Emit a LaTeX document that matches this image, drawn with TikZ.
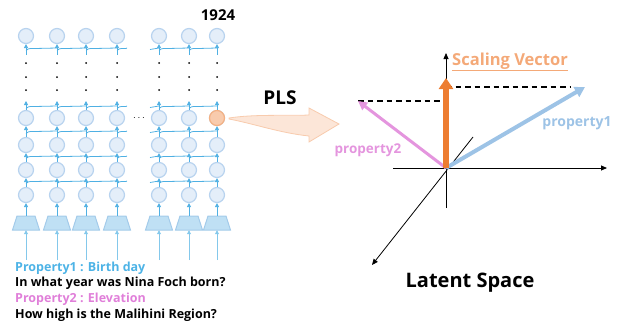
\documentclass[tikz,border=0pt]{standalone}
\usepackage{fontspec}
\setmainfont{Open Sans}
\usetikzlibrary{arrows.meta,shapes.geometric,calc}
\definecolor{netline}{HTML}{4FB0E3}
\definecolor{cfill}{HTML}{E4EEF9}
\definecolor{cdraw}{HTML}{B8D3EF}
\definecolor{tfill}{HTML}{BFE0F4}
\definecolor{tdraw}{HTML}{A3CBEA}
\definecolor{ofill}{HTML}{F8CBAD}
\definecolor{odraw}{HTML}{F4B183}
\definecolor{pone}{HTML}{4DB3E6}
\definecolor{ptwo}{HTML}{E07FD9}
\definecolor{arrfill}{HTML}{FCE6D8}
\definecolor{arrdraw}{HTML}{F8CBAD}
\definecolor{scal}{HTML}{ED7D31}
\definecolor{scaltext}{HTML}{F4A978}
\definecolor{bluev}{HTML}{9DC3E6}
\definecolor{pinkv}{HTML}{E495DE}
\begin{document}
\begin{tikzpicture}[x=1pt,y=-1pt,
  cell/.style={circle,draw=cdraw,fill=cfill,line width=1.2pt,minimum size=15pt,inner sep=0pt},
  ocell/.style={cell,draw=odraw,fill=ofill},
  embbox/.style={rectangle,minimum width=27pt,minimum height=14pt,inner sep=0pt},
  embshape/.style={draw=tdraw,fill=tfill,line width=1pt},
  net/.style={draw=netline,line width=0.8pt,-{Triangle[length=4pt,width=4pt]}},
  link/.style={draw=netline,line width=0.8pt},
  inarrow/.style={draw=netline!70,line width=0.8pt,-{Triangle[length=4pt,width=4pt]}},
  lbl/.style={font=\bfseries,inner sep=0pt},
  txt/.style={lbl,anchor=west,font=\bfseries\fontsize{12.5}{14}\selectfont},
  axis/.style={draw=black,line width=0.8pt,-{Triangle[length=6pt,width=5pt]}},
  dsh/.style={line width=1.1pt,dash pattern=on 5.5pt off 4pt},
]
\useasboundingbox (0,0) rectangle (619,324);

% cells
\foreach \x [count=\i] in {26,57,86,117,159,189,217}{
  \foreach \y [count=\j] in {195,170,145,118,36}{
    \node[cell] (c-\i-\j) at (\x,\y) {};
  }
  \node[embbox] (t-\i) at (\x,223) {};
  \path[embshape] (\x-13.5,230) -- (\x+13.5,230) -- (\x+9,216) -- (\x-9,216) -- cycle;
  \coordinate (in-\i) at (\x,260);
  \draw[inarrow] (in-\i) -- (t-\i.south);
  \draw[net] (t-\i.north) -- (c-\i-1.south);
  \draw[net] (c-\i-1.north) -- (c-\i-2.south);
  \draw[net] (c-\i-2.north) -- (c-\i-3.south);
  \draw[net] (c-\i-3.north) -- (c-\i-4.south);
  \coordinate (up-\i) at (\x,101);
  \draw[net] (c-\i-4.north) -- (up-\i);
  \coordinate (dn-\i) at (\x,55);
  \draw[net] (dn-\i) -- (c-\i-5.south);
  \foreach \dy in {63,77,90}{ \fill (\x,\dy) circle [radius=1pt]; }
}
\node[ocell] at (c-7-4) {};

% horizontal links
\foreach \h in {182,157,132,107,49}{
  \foreach \a/\b in {26/57,57/86,86/117,117/127}{
    \draw[link] (\a,\h+1.5) .. controls (\a+2,\h-0.5) .. (\a+9,\h-0.5) -- (\b,\h-1);
  }
  \draw[link] (150,\h+0.5) -- (159,\h-1);
  \foreach \a/\b in {159/189,189/217}{
    \draw[link] (\a,\h+1.5) .. controls (\a+2,\h-0.5) .. (\a+9,\h-0.5) -- (\b,\h-1);
  }
}

\node[font=\bfseries] (dots) at (139,118) {$\cdots$};
\node[lbl,font=\bfseries\fontsize{15}{17}\selectfont] (ans) at (218,15) {1924};

% texts
\node[txt,text=pone] (p1) at (15,268) {Property1 : Birth day};
\node[txt] (q1) at (15,283.5) {In what year was Nina Foch born?};
\node[txt,text=ptwo] (p2) at (15,299.5) {Property2 : Elevation};
\node[txt] (q2) at (15,315) {How high is the Malihini Region?};

% PLS arrow
\path[fill=arrfill,draw=arrdraw,line width=0.8pt] (229,118) .. controls (255,114) and (285,116) .. (309,115) -- (309,108) -- (339,124) -- (309,142) -- (309,136) .. controls (280,133) and (255,124) .. (229,119) -- cycle;
\node[lbl,font=\bfseries\fontsize{19}{21}\selectfont] (pls) at (280,98) {PLS};

% latent space
\coordinate (O) at (446,168);
\coordinate (xa) at (393,168); \coordinate (xb) at (607,168);
\coordinate (ya) at (446,208); \coordinate (yb) at (446,53);
\coordinate (za) at (473,137); \coordinate (zb) at (372,265);
\draw[axis] (xa) -- (xb);
\draw[axis] (ya) -- (yb);
\draw[axis] (za) -- (zb);
\coordinate (p2end) at (358,101);
\coordinate (p1end) at (585,87);
\coordinate (sv) at (446,78);
\coordinate (d2) at (446,101);
\coordinate (d1a) at (446,87);
\coordinate (d1b) at (570,87);
\draw[dsh] (p2end) -- (d2);
\draw[dsh] (d1a) -- (d1b);
\draw[pinkv,line width=3pt,-{Triangle[length=9pt,width=9pt]}] (O) -- (p2end);
\draw[bluev,line width=4pt,-{Triangle[length=10pt,width=11pt]}] (O) -- (p1end);
\draw[scal,line width=5.5pt,-{Triangle[length=11pt,width=14pt]}] (O) -- (sv);
\node[lbl,text=scaltext,font=\bfseries\fontsize{16.5}{18}\selectfont] (svl) at (510,62) {\underline{Scaling Vector}};
\node[lbl,text=bluev,font=\bfseries\fontsize{14}{16}\selectfont] (l1) at (577,123) {property1};
\node[lbl,text=pinkv,font=\bfseries\fontsize{13.5}{15}\selectfont] (l2) at (368,150) {property2};
\node[lbl,font=\bfseries\fontsize{20}{22}\selectfont] (ls) at (470,283) {Latent Space};
\end{tikzpicture}
\end{document}
